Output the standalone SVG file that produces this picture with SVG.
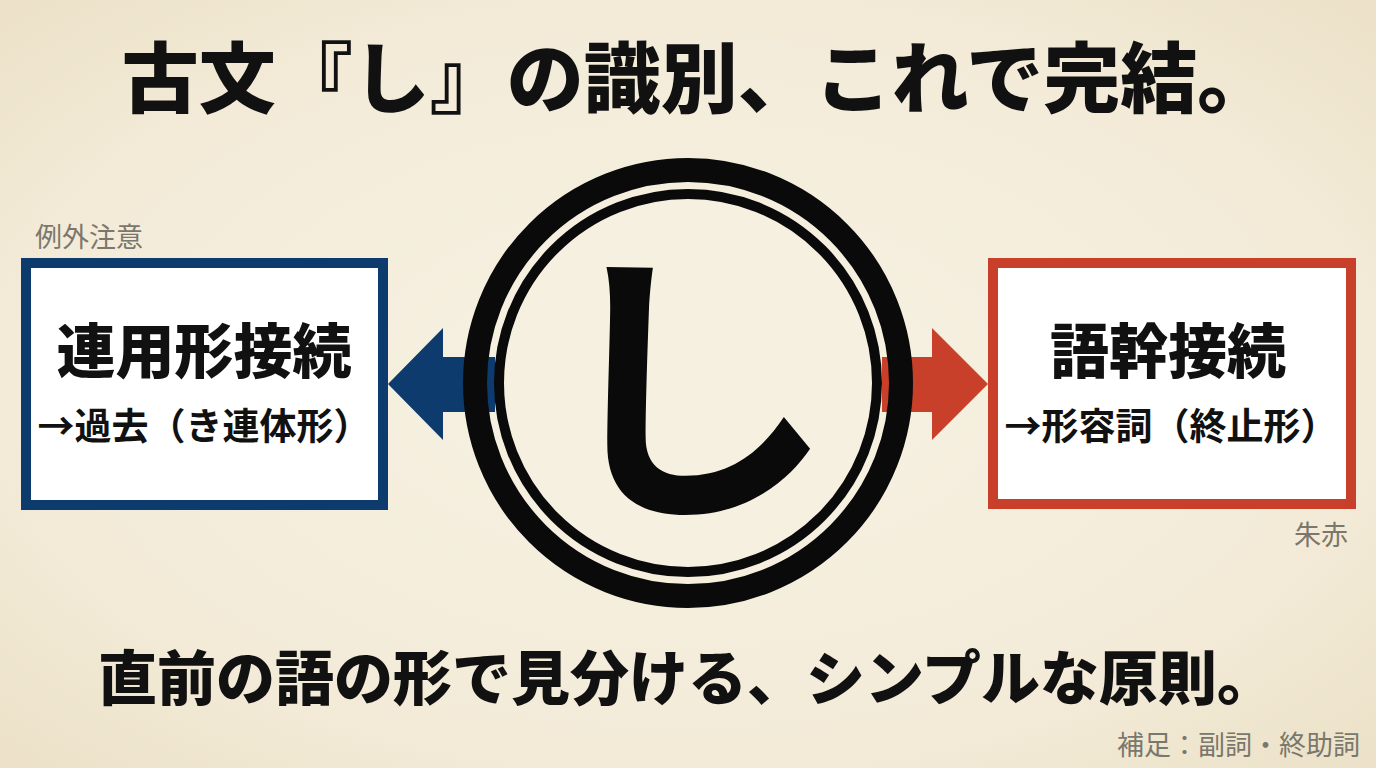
<svg xmlns="http://www.w3.org/2000/svg" width="1376" height="768" viewBox="0 0 1376 768">
<defs>
<radialGradient id="bg" cx="50%" cy="50%" r="75%">
<stop offset="0" stop-color="#f7f2e4"/>
<stop offset="0.65" stop-color="#f3ebd8"/>
<stop offset="1" stop-color="#eadfc4"/>
</radialGradient>
<style>
.jp{font-family:"Noto Sans CJK JP","Noto Sans CJK SC",sans-serif;}
.title{font-size:77px;font-weight:900;fill:#111;}
.main{font-size:59px;font-weight:900;fill:#111;}
.sub{font-size:37px;font-weight:700;fill:#111;}
.note{font-size:27px;font-weight:400;fill:#7a776c;}
.box{fill:#ffffff;stroke-width:10;}
.ring{fill:none;stroke:#0a0a0a;}
</style>
</defs>
<rect width="1376" height="768" fill="url(#bg)"/>
<g id="title"><text class="jp title" x="698" y="107" text-anchor="middle">古文『し』の識別、これで完結。</text></g>
<g id="connectors">
<polygon points="388,384 443,328 443,357 495,357 495,412 443,412 443,440" fill="#0d3b6d"/>
<polygon points="988,384 932,328 932,357 882,357 882,412 932,412 932,440" fill="#c8402a"/>
</g>
<g id="center">
<circle cx="688" cy="383" r="186" fill="#f6f0e1"/>
<circle class="ring" cx="688" cy="383" r="213" stroke-width="24"/>
<circle class="ring" cx="688" cy="383" r="189" stroke-width="10"/>
<text class="jp" x="690" y="496" text-anchor="middle" font-size="288" font-weight="700" fill="#0a0a0a">し</text>
</g>
<g id="left">
<text class="jp note" x="35" y="247">例外注意</text>
<rect class="box" x="26" y="263" width="357" height="242" stroke="#0d3b6d"/>
<text class="jp main" x="204" y="373" text-anchor="middle">連用形接続</text>
<text class="jp sub" x="204" y="440" text-anchor="middle">→過去（き連体形）</text>
</g>
<g id="right">
<rect class="box" x="993" y="263" width="358" height="241" stroke="#c8402a"/>
<text class="jp main" x="1168" y="373" text-anchor="middle">語幹接続</text>
<text class="jp sub" x="1171" y="440" text-anchor="middle">→形容詞（終止形）</text>
<text class="jp note" x="1348" y="545" text-anchor="end">朱赤</text>
</g>
<g id="bottom"><text class="jp main" x="687" y="700" text-anchor="middle" font-size="58">直前の語の形で見分ける、シンプルな原則。</text></g>
<g id="footnote"><text class="jp note" x="1360" y="755" text-anchor="end" font-size="28">補足：副詞・終助詞</text></g>
</svg>
